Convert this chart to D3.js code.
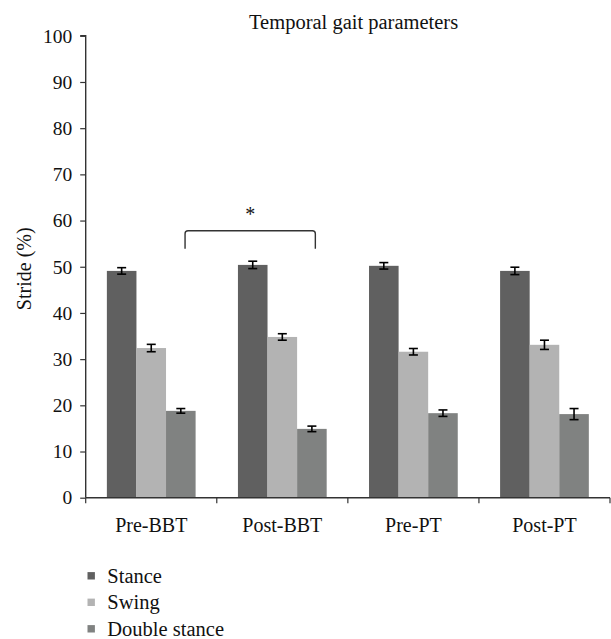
<!DOCTYPE html>
<html>
<head>
<meta charset="utf-8">
<script src="https://cdn.jsdelivr.net/npm/d3@7"></script>
<style>
  body { margin: 0; background: #fff; }
  svg text { font-family: "Liberation Serif", "DejaVu Serif", serif; fill: #111; }
</style>
</head>
<body>
<svg id="chart" width="611" height="639"></svg>
<script>
const categories = ["Pre-BBT", "Post-BBT", "Pre-PT", "Post-PT"];
const seriesNames = ["Stance", "Swing", "Double stance"];
const stance = [49.1, 50.4, 50.2, 49.1];
const stanceErr = [0.7, 0.8, 0.7, 0.8];
const swing = [32.4, 34.8, 31.6, 33.1];
const swingErr = [0.8, 0.7, 0.7, 1.0];
const doubleStance = [18.8, 14.9, 18.3, 18.1];
const doubleStanceErr = [0.5, 0.6, 0.7, 1.2];
const yTicks = [0, 10, 20, 30, 40, 50, 60, 70, 80, 90, 100];
const title = "Temporal gait parameters";
const yLabel = "Stride (%)";
const sigPair = ["Pre-BBT", "Post-BBT"];
const sigBracket = [57.8, 53.9]; // top, leg bottom (data units)
const colors = ["#606060", "#b3b3b3", "#808281"];

const values = [stance, swing, doubleStance];
const errs = [stanceErr, swingErr, doubleStanceErr];

const svg = d3.select("#chart");
const mLeft = 85.7, mRight = 610, mTop = 35.8, mBottom = 497.7;

const x0 = d3.scaleBand().domain(categories).range([mLeft, mRight]).padding(0);
const bw = x0.bandwidth();
const groupW = bw * 0.677;
const x1 = d3.scaleBand().domain(seriesNames).range([0, groupW]).padding(0);
const y = d3.scaleLinear().domain([0, 100]).range([mBottom, mTop]);

// title
svg.append("text").attr("x", 353.6).attr("y", 28.5)
  .attr("text-anchor", "middle").style("font-size", "20.5px").text(title);

// y axis label
svg.append("text")
  .attr("transform", `translate(30.5,${(mTop + mBottom) / 2 + 2}) rotate(-90)`)
  .attr("text-anchor", "middle").style("font-size", "20px").text(yLabel);

// bars
const data = [];
categories.forEach((c, i) => {
  seriesNames.forEach((s, j) => {
    data.push({ c, s, j, v: values[j][i], e: errs[j][i] });
  });
});

const gx = (d) => x0(d.c) + (bw - groupW) / 2 + x1(d.s);

svg.append("g").selectAll("rect").data(data).join("rect")
  .attr("x", gx)
  .attr("y", d => y(d.v))
  .attr("width", x1.bandwidth())
  .attr("height", d => y(0) - y(d.v))
  .attr("fill", d => colors[d.j]);

// error bars
const eg = svg.append("g").attr("stroke", "#000").attr("stroke-width", 1.6).attr("fill", "none");
data.forEach(d => {
  const cx = gx(d) + x1.bandwidth() / 2;
  const capW = 4.5;
  eg.append("line").attr("x1", cx).attr("x2", cx).attr("y1", y(d.v + d.e)).attr("y2", y(d.v - d.e));
  eg.append("line").attr("x1", cx - capW).attr("x2", cx + capW).attr("y1", y(d.v + d.e)).attr("y2", y(d.v + d.e));
  eg.append("line").attr("x1", cx - capW).attr("x2", cx + capW).attr("y1", y(d.v - d.e)).attr("y2", y(d.v - d.e));
});

// y axis
const yAxis = d3.axisLeft(y).tickValues(yTicks).tickSize(5.5).tickPadding(8).tickFormat(d3.format("d"));
const yg = svg.append("g").attr("transform", `translate(${mLeft},0)`).call(yAxis);
yg.select(".domain").attr("stroke", "#333").attr("stroke-width", 1.4).attr("d", `M-5.5,${mTop}H0V${mBottom}`);
yg.selectAll(".tick line").attr("stroke", "#333").attr("stroke-width", 1.2);
yg.selectAll(".tick text").style("font-size", "19.5px").style("font-family", "Liberation Serif, serif").attr("fill", "#111");

// x axis
const xAxis = d3.axisBottom(x0).tickSize(0).tickPadding(20);
const xg = svg.append("g").attr("transform", `translate(0,${mBottom})`).call(xAxis);
xg.select(".domain").attr("stroke", "#333").attr("stroke-width", 1.4).attr("d", `M${mLeft},0H${mRight}`);
xg.selectAll(".tick text").style("font-size", "20px").style("font-family", "Liberation Serif, serif").attr("fill", "#111");
const bounds = [x0(categories[0])].concat(categories.map(c => x0(c) + bw));
xg.selectAll("line.bnd").data(bounds).join("line").attr("class", "bnd")
  .attr("x1", d => d).attr("x2", d => d).attr("y1", 0).attr("y2", 5.5)
  .attr("stroke", "#333").attr("stroke-width", 1.2);

// significance bracket
const bxL = x0(sigPair[0]) + bw * 0.758;
const bxR = x0(sigPair[1]) + bw * 0.752;
const byT = y(sigBracket[0]), byB = y(sigBracket[1]);
svg.append("path")
  .attr("d", `M${bxL},${byB}V${byT + 3}Q${bxL},${byT} ${bxL + 3},${byT}H${bxR - 3}Q${bxR},${byT} ${bxR},${byT + 3}V${byB}`)
  .attr("fill", "none").attr("stroke", "#333").attr("stroke-width", 1.4);
svg.append("text").attr("x", (bxL + bxR) / 2).attr("y", byT - 10)
  .attr("text-anchor", "middle").style("font-size", "20px").text("*");

// legend
const lg = svg.append("g");
seriesNames.forEach((s, j) => {
  const cy = 575.8 + j * 26.5;
  lg.append("rect").attr("x", 87.5).attr("y", cy - 3.7).attr("width", 7.4).attr("height", 7.4).attr("fill", colors[j]);
  lg.append("text").attr("x", 107.3).attr("y", cy + 6.8).style("font-size", "20.5px").text(s);
});
</script>
</body>
</html>
